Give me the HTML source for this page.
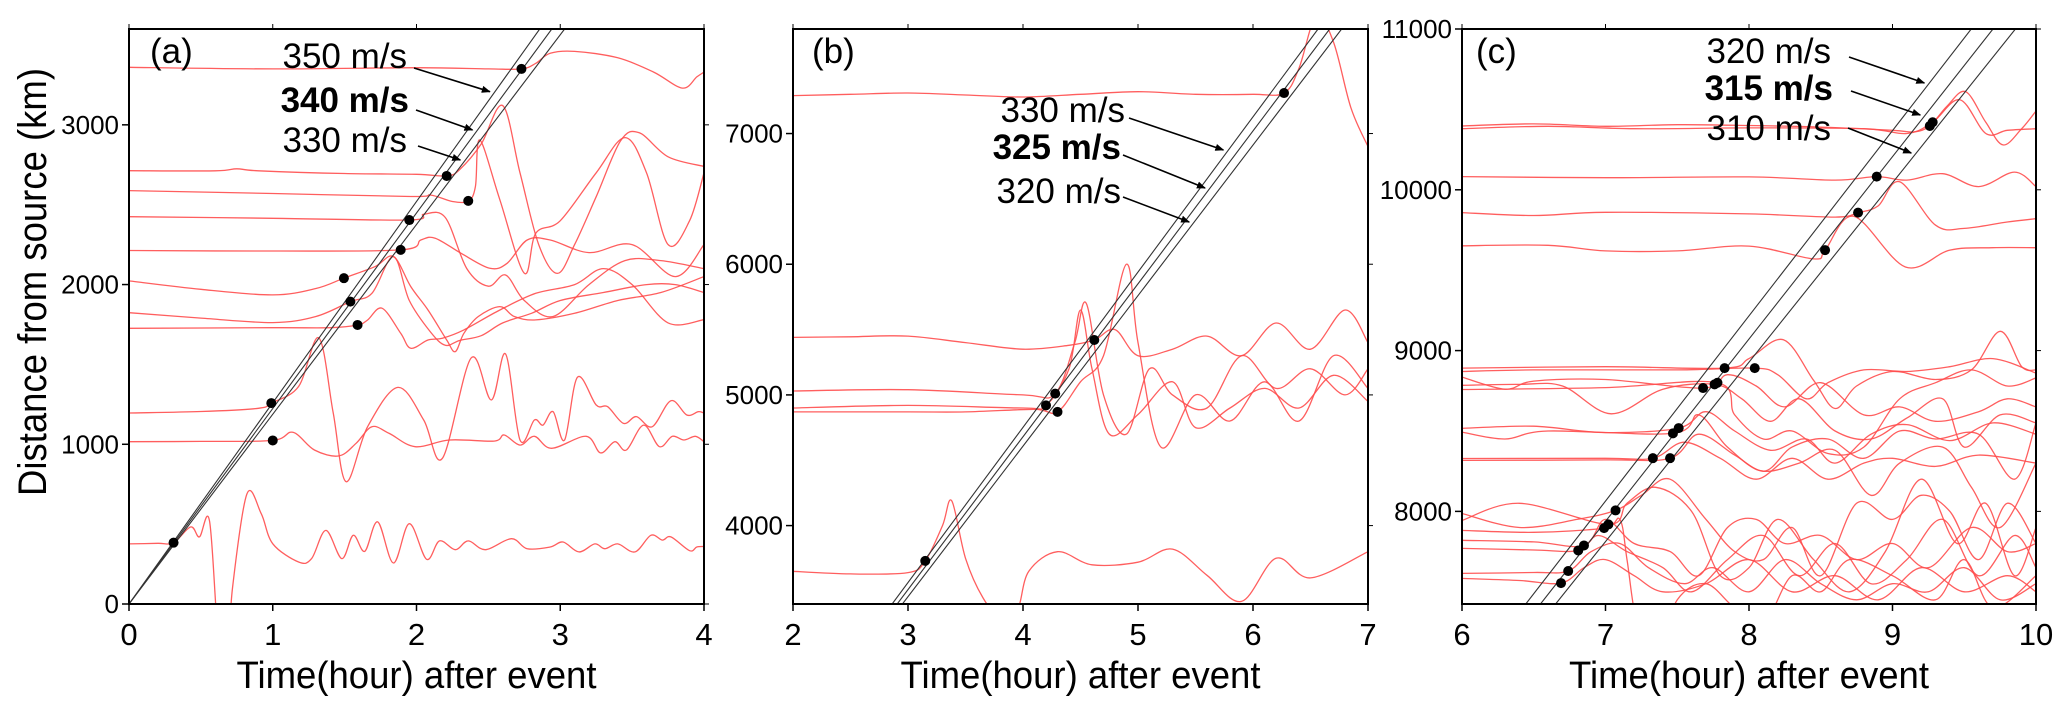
<!DOCTYPE html>
<html><head><meta charset="utf-8"><style>
html,body{margin:0;padding:0;background:#fff;}
svg{display:block;font-family:"Liberation Sans",Arial,sans-serif;}
</style></head><body>
<svg id="fig" width="2067" height="714" viewBox="0 0 2067 714" xmlns="http://www.w3.org/2000/svg">
<defs>
<marker id="ah" viewBox="0 0 10 10" refX="9" refY="5" markerWidth="9" markerHeight="9" markerUnits="userSpaceOnUse" orient="auto"><path d="M0,1 L10,5 L0,9 z" fill="#000"/></marker>
<clipPath id="clipA"><rect x="129" y="29" width="575" height="575"/></clipPath>
<clipPath id="clipB"><rect x="793" y="29" width="575" height="575"/></clipPath>
<clipPath id="clipC"><rect x="1462" y="29" width="574" height="575"/></clipPath>
</defs>
</svg>
<script>
// ---------- DATA ----------
const speedsA = [350, 340, 330];
const speedsB = [330, 325, 320];
const speedsC = [320, 315, 310];
const boldSpeedA = 340, boldSpeedB = 325, boldSpeedC = 315;

const xTicksA = [0,1,2,3,4];
const xTicksB = [2,3,4,5,6,7];
const xTicksC = [6,7,8,9,10];
const yTicksA = [0,1000,2000,3000];
const yTicksB = [4000,5000,6000,7000];
const yTicksC = [8000,9000,10000,11000];

const dotsA_t = [0.31,1.0,0.99,1.495,1.54,1.59,1.89,1.95,2.21,2.36,2.73];
const dotsA_d = [384,1024,1258,2040,1893,1747,2217,2404,2680,2524,3350];
const dotsB_t = [3.15,4.2,4.3,4.28,4.62,6.27];
const dotsB_d = [3730,4920,4870,5010,5420,7310];
const dotsC_t = [6.69,6.74,6.81,6.85,6.99,7.02,7.07,7.33,7.45,7.47,7.51,7.68,7.76,7.78,7.83,8.04,8.53,8.76,8.89,9.26,9.28];
const dotsC_d = [7554,7629,7757,7788,7896,7919,8006,8331,8331,8485,8518,8767,8790,8800,8891,8891,9625,9858,10082,10397,10420];

const tracesA = [
 [[0,3360],[1,3350],[2,3358],[2.5,3350],[2.73,3350],[2.83,3385],[2.93,3448],[3.1,3460],[3.4,3420],[3.65,3330],[3.85,3230],[3.95,3300],[4,3330]],
 [[0,2713],[0.6,2712],[0.75,2725],[0.9,2712],[1.5,2695],[2,2690],[2.21,2680],[2.3,2720],[2.45,2880],[2.6,3120],[2.72,2700],[2.85,2250],[2.98,2070],[3.1,2250],[3.25,2550],[3.42,2900],[3.55,2950],[3.75,2800],[4,2740]],
 [[0,2588],[1,2570],[1.96,2551],[2.1,2560],[2.25,2520],[2.36,2524],[2.41,2613],[2.44,2905],[2.58,2530],[2.75,2071],[2.83,2321],[3.0,2400],[3.25,2700],[3.45,2920],[3.6,2700],[3.75,2250],[3.9,2400],[4,2700]],
 [[0,2425],[1,2415],[1.95,2404],[2.05,2440],[2.2,2420],[2.35,2100],[2.5,1990],[2.62,2060],[2.75,1900],[2.95,1800],[3.2,2000],[3.45,2150],[3.7,2150],[4,2100]],
 [[0,2213],[1,2210],[1.89,2217],[2.03,2279],[2.13,2290],[2.31,2196],[2.51,2102],[2.63,2133],[2.77,2279],[2.93,2279],[3.2,2200],[3.5,2250],[3.8,2050],[4,2250]],
 [[0,2023],[0.5,1970],[1.0,1935],[1.3,1975],[1.495,2040],[1.71,2112],[1.84,2175],[1.96,1987],[2.08,1841],[2.21,1653],[2.27,1580],[2.33,1695],[2.43,1800],[2.58,1862],[2.68,1800],[2.83,1779],[3.1,1820],[3.4,1900],[3.7,1950],[4,2050]],
 [[0,1824],[0.5,1790],[1.0,1762],[1.3,1800],[1.54,1893],[1.69,1945],[1.84,2175],[1.95,1900],[2.1,1700],[2.2,1620],[2.3,1650],[2.45,1680],[2.6,1760],[2.8,1820],[3.0,1900],[3.3,1950],[3.6,2000],[3.8,2000],[4,1950]],
 [[0,1726],[1,1730],[1.4,1730],[1.59,1747],[1.66,1778],[1.76,1852],[1.89,1695],[1.96,1601],[2.08,1653],[2.18,1664],[2.33,1716],[2.58,1841],[2.83,1945],[3.1,2000],[3.3,2100],[3.5,2000],[3.75,1760],[4,1780]],
 [[0,1196],[0.5,1205],[0.9,1225],[0.99,1258],[1.18,1362],[1.32,1666],[1.42,1200],[1.51,766],[1.66,1110],[1.87,1356],[2.05,1152],[2.18,912],[2.38,1540],[2.52,1277],[2.62,1565],[2.72,1027],[2.82,1152],[2.88,1120],[2.95,1204],[3.03,1027],[3.12,1420],[3.25,1246],[3.33,1235],[3.44,1131],[3.53,1173],[3.64,1110],[3.77,1273],[3.88,1183],[3.96,1204],[4,1196]],
 [[0,1016],[0.5,1018],[1.0,1024],[1.14,1075],[1.29,964],[1.46,927],[1.58,1006],[1.69,1110],[1.81,1068],[1.99,985],[2.23,1027],[2.54,1020],[2.61,1058],[2.72,995],[2.82,1050],[2.94,975],[3.18,1050],[3.28,946],[3.38,1016],[3.46,964],[3.58,1120],[3.69,985],[3.78,1050],[3.86,1027],[3.94,1050],[4,1016]],
 [[0,376],[0.2,380],[0.31,384],[0.43,483],[0.49,420],[0.56,520],[0.62,-200],[0.68,-400],[0.72,100],[0.82,689],[0.92,565],[1.0,377],[1.18,263],[1.27,284],[1.37,461],[1.48,284],[1.56,430],[1.64,330],[1.73,514],[1.84,257],[1.95,503],[2.07,280],[2.16,395],[2.27,340],[2.36,395],[2.48,340],[2.66,409],[2.77,346],[2.93,357],[3.02,388],[3.13,326],[3.24,376],[3.31,346],[3.4,376],[3.52,326],[3.63,430],[3.71,400],[3.77,420],[3.9,334],[3.95,357],[4,360]]
];
const tracesB = [
 [[2,7290],[2.5,7300],[3,7310],[3.5,7295],[4,7280],[4.5,7300],[5,7320],[5.5,7300],[6,7300],[6.27,7310],[6.4,7500],[6.55,7900],[6.7,7700],[6.85,7200],[7,6900]],
 [[2,5440],[2.5,5445],[3,5450],[3.5,5400],[4,5350],[4.4,5380],[4.62,5420],[4.8,5500],[5,5300],[5.3,5350],[5.6,5450],[5.9,5300],[6.2,5550],[6.5,5350],[6.8,5650],[7,5400]],
 [[2,5030],[3,5040],[4,5000],[4.28,5010],[4.45,5400],[4.55,5700],[4.7,5000],[4.9,4700],[5.1,5200],[5.3,5000],[5.6,4900],[5.9,5300],[6.2,5050],[6.5,5200],[6.8,5000],[7,5200]],
 [[2,4900],[3,4920],[4,4900],[4.2,4920],[4.4,5200],[4.5,5650],[4.6,5200],[4.75,4700],[5,4850],[5.3,5100],[5.5,4750],[5.8,4900],[6.1,5050],[6.4,4900],[6.7,5150],[7,4950]],
 [[2,4870],[3,4870],[3.5,4870],[4.1,4890],[4.3,4870],[4.5,5100],[4.7,5300],[4.9,6000],[5.0,5400],[5.2,4600],[5.5,5000],[5.8,4800],[6.1,5100],[6.4,4800],[6.7,5300],[7,5050]],
 [[2,3650],[2.5,3630],[3,3640],[3.15,3730],[3.3,4000],[3.38,4190],[3.5,3750],[3.65,3450],[3.8,3300],[3.95,3350],[4.05,3650],[4.3,3800],[4.6,3700],[5,3720],[5.3,3820],[5.6,3620],[5.9,3420],[6.2,3750],[6.5,3600],[7,3800]]
];
const tracesC = [
 [[6,10397],[6.5,10410],[7,10395],[7.5,10405],[8,10400],[8.5,10390],[9.0,10370],[9.15,10360],[9.26,10397],[9.38,10520],[9.51,10610],[9.65,10420],[9.77,10279],[9.9,10380],[10,10490]],
 [[6,10380],[6.6,10395],[7.2,10380],[8,10385],[8.8,10380],[9.1,10350],[9.28,10420],[9.47,10560],[9.65,10350],[9.8,10370],[10,10380]],
 [[6,10082],[7,10075],[8,10080],[8.6,10060],[8.89,10082],[9.1,10060],[9.35,10100],[9.6,10020],[9.85,10110],[10,10020]],
 [[6,9858],[6.5,9840],[7,9860],[8,9850],[8.6,9830],[8.76,9858],[8.9,9900],[9.05,10050],[9.3,9780],[9.5,9760],[9.8,9800],[10,9820]],
 [[6,9652],[6.6,9655],[7,9620],[7.5,9620],[8,9650],[8.45,9570],[8.53,9625],[8.73,9835],[9.09,9520],[9.4,9625],[9.7,9640],[10,9640]],
 [[6,8891],[7,8900],[7.83,8891],[8.0,8950],[8.24,9067],[8.45,8815],[8.6,8640],[8.75,8780],[9.0,8870],[9.3,8820],[9.55,8880],[9.75,9120],[9.9,8900],[10,8880]],
 [[6,8870],[6.5,8880],[7.5,8880],[8.04,8891],[8.2,8850],[8.4,8700],[8.55,8800],[8.8,8880],[9.1,8870],[9.4,8900],[9.7,8950],[10,8860]],
 [[6,8835],[6.3,8760],[6.5,8810],[7,8820],[7.68,8767],[7.85,8850],[8.05,8780],[8.25,8650],[8.5,8800],[8.8,8600],[9.05,8650],[9.3,8560],[9.6,8620],[9.8,8700],[10,8650]],
 [[6,8784],[6.4,8790],[6.7,8780],[7.04,8607],[7.4,8760],[7.76,8790],[7.95,8700],[8.15,8560],[8.35,8700],[8.6,8500],[8.85,8450],[9.1,8580],[9.35,8700],[9.5,8400],[9.75,8600],[10,8550]],
 [[6,8758],[7,8770],[7.78,8800],[7.9,8600],[8.1,8450],[8.3,8500],[8.55,8360],[8.8,8400],[9.05,8700],[9.3,8800],[9.55,8880],[9.8,8780],[10,8830]],
 [[6,8516],[6.5,8530],[7,8490],[7.51,8518],[7.7,8620],[7.9,8500],[8.15,8380],[8.4,8450],[8.6,8300],[8.85,8480],[9.1,8540],[9.4,8440],[9.7,8550],[10,8480]],
 [[6,8493],[6.3,8450],[6.6,8500],[7.47,8485],[7.65,8600],[7.85,8400],[8.1,8250],[8.3,8400],[8.55,8450],[8.8,8330],[9.05,8500],[9.3,8450],[9.6,8480],[9.85,8200],[10,8550]],
 [[6,8329],[7,8330],[7.33,8331],[7.55,8430],[7.8,8330],[8.05,8200],[8.3,8330],[8.55,8200],[8.8,8300],[9.0,8330],[9.3,8280],[9.6,8350],[10,8300]],
 [[6,8317],[7,8320],[7.45,8331],[7.65,8480],[7.9,8350],[8.1,8250],[8.35,8300],[8.6,8380],[8.85,8100],[9.05,8300],[9.35,8400],[9.55,8150],[9.75,7900],[10,8300]],
 [[6,7987],[6.4,7900],[6.8,7950],[7.07,8006],[7.25,8100],[7.45,8200],[7.7,7950],[7.9,7750],[8.1,7700],[8.3,7900],[8.5,7600],[8.75,8050],[9.0,7950],[9.2,8100],[9.4,8000],[9.6,7700],[9.8,8050],[10,7800]],
 [[6,7944],[6.4,8050],[7.02,7919],[7.15,8050],[7.35,8150],[7.6,8000],[7.8,7600],[8.0,7650],[8.2,7950],[8.45,7700],[8.7,7500],[8.95,7750],[9.2,8200],[9.45,7800],[9.65,8050],[9.85,7600],[10,7900]],
 [[6,7882],[6.5,7870],[6.99,7896],[7.1,7950],[7.15,7700],[7.22,7300],[7.35,7100],[7.5,7450],[7.7,7550],[7.9,7400],[8.1,7300],[8.3,7600],[8.5,7500],[8.7,7700],[9.0,7600],[9.3,7450],[9.5,7700],[9.7,7400],[10,7600]],
 [[6,7820],[6.5,7810],[6.85,7788],[7.0,7950],[7.2,7800],[7.45,7750],[7.65,7600],[7.85,7900],[8.05,7950],[8.25,7800],[8.5,7850],[8.75,7700],[9.0,7800],[9.25,7650],[9.55,7900],[9.8,7750],[10,7800]],
 [[6,7770],[6.5,7760],[6.81,7757],[6.95,7850],[7.15,7750],[7.4,7650],[7.6,7500],[7.85,7700],[8.1,7850],[8.35,7600],[8.6,7800],[8.85,7550],[9.1,7700],[9.35,7950],[9.6,7600],[9.85,7850],[10,7650]],
 [[6,7614],[6.5,7620],[6.74,7629],[6.9,7750],[7.1,7800],[7.3,7650],[7.55,7550],[7.75,7650],[8.0,7500],[8.25,7700],[8.5,7550],[8.75,7450],[9.0,7550],[9.25,7500],[9.5,7650],[9.75,7450],[10,7550]],
 [[6,7583],[6.4,7570],[6.69,7554],[6.85,7650],[7.0,7700],[7.2,7600],[7.4,7500],[7.7,7550],[8.0,7700],[8.3,7500],[8.6,7600],[8.9,7450],[9.2,7650],[9.5,7500],[9.8,7600],[10,7500]]
];

// ---------- LAYOUT ----------
const NS = "http://www.w3.org/2000/svg";
const svg = document.getElementById("fig");
function mk(tag, attrs, parent) {
  const e = document.createElementNS(NS, tag);
  for (const k in attrs) e.setAttribute(k, attrs[k]);
  (parent || svg).appendChild(e);
  return e;
}
function smoothPath(pts) {
  let d = "M" + pts[0][0].toFixed(1) + "," + pts[0][1].toFixed(1);
  for (let i = 0; i < pts.length - 1; i++) {
    const p0 = pts[i - 1] || pts[i], p1 = pts[i], p2 = pts[i + 1], p3 = pts[i + 2] || p2;
    const c1x = p1[0] + (p2[0] - p0[0]) / 6, c1y = p1[1] + (p2[1] - p0[1]) / 6;
    const c2x = p2[0] - (p3[0] - p1[0]) / 6, c2y = p2[1] - (p3[1] - p1[1]) / 6;
    d += " C" + c1x.toFixed(1) + "," + c1y.toFixed(1) + " " + c2x.toFixed(1) + "," + c2y.toFixed(1) + " " + p2[0].toFixed(1) + "," + p2[1].toFixed(1);
  }
  return d;
}

const panels = [
  {key:"a", label:"(a)", x0:129, x1:704, yt:29, yb:604, tmin:0, tmax:4, dmin:0, dmax:3600, clip:"clipA",
   xticks:xTicksA, yticks:yTicksA, speeds:speedsA, bold:boldSpeedA, traces:tracesA, dt:dotsA_t, dd:dotsA_d,
   labelEnd:[407,409,407], labelBase:[68,112,152], arrowStart:[[414,68],[416,110],[418,146]], tipY:[91.7,130,160], labelX:150},
  {key:"b", label:"(b)", x0:793, x1:1368, yt:29, yb:604, tmin:2, tmax:7, dmin:3400, dmax:7800, clip:"clipB",
   xticks:xTicksB, yticks:yTicksB, speeds:speedsB, bold:boldSpeedB, traces:tracesB, dt:dotsB_t, dd:dotsB_d,
   labelEnd:[1125,1121,1121], labelBase:[122,159,203], arrowStart:[[1129,118],[1123,155],[1123,197]], tipY:[150,188,222], labelX:812},
  {key:"c", label:"(c)", x0:1462, x1:2036, yt:29, yb:604, tmin:6, tmax:10, dmin:7424, dmax:11000, clip:"clipC",
   xticks:xTicksC, yticks:yTicksC, speeds:speedsC, bold:boldSpeedC, traces:tracesC, dt:dotsC_t, dd:dotsC_d,
   labelEnd:[1831,1833,1831], labelBase:[63,100,140], arrowStart:[[1849,57],[1851,91],[1848,128]], tipY:[83,115,153], labelX:1476}
];

panels.forEach(p => {
  const sx = t => p.x0 + (t - p.tmin) / (p.tmax - p.tmin) * (p.x1 - p.x0);
  const sy = d => p.yb - (d - p.dmin) / (p.dmax - p.dmin) * (p.yb - p.yt);
  const dOfY = y => p.dmin + (p.yb - y) / (p.yb - p.yt) * (p.dmax - p.dmin);

  const g = mk("g", {});
  
  

  const plot = mk("g", {"clip-path": "url(#" + p.clip + ")"}, g);
  
  

  // traces
  p.traces.forEach((tr, i) => {
    const pts = tr.map(q => [sx(q[0]), sy(q[1])]);
    const path = mk("path", {d: smoothPath(pts), fill: "none", stroke: "#ff4d4d", "stroke-width": 1.3, "stroke-opacity": 0.9}, plot);
    
    
  });

  // speed lines
  p.speeds.forEach((v, i) => {
    const kmh = v * 3.6;
    const tA = Math.max(0, p.dmin / kmh), tB = p.dmax / kmh;
    const ln = mk("line", {x1: sx(tA), y1: sy(kmh * tA), x2: sx(tB), y2: sy(kmh * tB), stroke: "#333", "stroke-width": 1.1}, plot);
    
    
  });

  // dots
  p.dt.forEach((t, i) => {
    const c = mk("circle", {cx: sx(t), cy: sy(p.dd[i]), r: 5, fill: "#000"}, plot);
    
    
  });

  // frame
  const fr = mk("rect", {x: p.x0, y: p.yt, width: p.x1 - p.x0, height: p.yb - p.yt, fill: "none", stroke: "#000", "stroke-width": 2}, g);
  
  

  // x ticks
  p.xticks.forEach(t => {
    const x = sx(t);
    mk("line", {x1: x, y1: p.yb, x2: x, y2: p.yb + 7, stroke: "#000", "stroke-width": 1.5}, g);
    mk("line", {x1: x, y1: p.yt, x2: x, y2: p.yt - 5, stroke: "#000", "stroke-width": 1}, g);
    const tx = mk("text", {x: x, y: 645, "font-size": 31, "text-anchor": "middle", fill: "#000"}, g);
    tx.textContent = t;
    
    
  });
  // y ticks
  p.yticks.forEach(d => {
    const y = sy(d);
    mk("line", {x1: p.x0 - 7, y1: y, x2: p.x0, y2: y, stroke: "#000", "stroke-width": 1.5}, g);
    mk("line", {x1: p.x1, y1: y, x2: p.x1 + 5, y2: y, stroke: "#000", "stroke-width": 1}, g);
    const tx = mk("text", {x: p.x0 - 10, y: y + 9, "font-size": 26, "text-anchor": "end", fill: "#000"}, g);
    tx.textContent = d;
    
    
  });

  // x-axis title
  const xt = mk("text", {x: (p.x0 + p.x1) / 2, y: 688, "font-size": 38, "text-anchor": "middle", textLength: 360, lengthAdjust: "spacingAndGlyphs", fill: "#000"}, g);
  xt.textContent = "Time(hour) after event";
  
  

  // panel label
  const pl = mk("text", {x: p.labelX, y: 63, "font-size": 35, fill: "#000"}, g);
  pl.textContent = p.label;
  
  

  // speed annotations
  p.speeds.forEach((v, i) => {
    const isBold = v === p.bold;
    const st = mk("text", {x: p.labelEnd[i], y: p.labelBase[i], "font-size": 35, "text-anchor": "end", "font-weight": isBold ? "bold" : "normal", fill: "#000"}, g);
    st.textContent = v + " m/s";
    
    
    const kmh = v * 3.6;
    const ty = p.tipY[i];
    const tipX = sx(dOfY(ty) / kmh) - 5;
    const ar = mk("line", {x1: p.arrowStart[i][0], y1: p.arrowStart[i][1], x2: tipX, y2: ty, stroke: "#000", "stroke-width": 1.6, "marker-end": "url(#ah)"}, g);
    
    
  });
});

// y-axis title
const yt = mk("text", {x: 0, y: 0, "font-size": 40, "text-anchor": "middle", textLength: 428, lengthAdjust: "spacingAndGlyphs", transform: "translate(46,282) rotate(-90)", fill: "#000"});
yt.textContent = "Distance from source (km)";


</script>
</body></html>
